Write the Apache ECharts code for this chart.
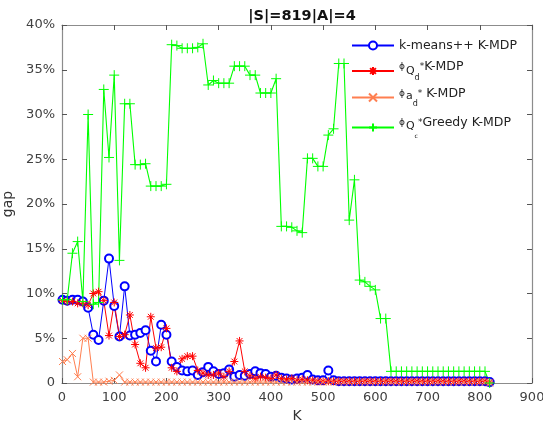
<!DOCTYPE html>
<html>
<head>
<meta charset="utf-8">
<script src="https://cdn.jsdelivr.net/npm/echarts@6/dist/echarts.min.js"></script>
<style>html,body{margin:0;padding:0;background:#fff}#c{width:543px;height:428px}</style>
</head>
<body>
<div id="c"></div>
<script>
// K values
const kValues = [1,10,20,30,40,50,60,70,80,90,100,110,120,130,140,150,160,170,180,190,200,210,220,230,240,250,260,270,280,290,300,310,320,330,340,350,360,370,380,390,400,410,420,430,440,450,460,470,480,490,500,510,520,530,540,550,560,570,580,590,600,610,620,630,640,650,660,670,680,690,700,710,720,730,740,750,760,770,780,790,800,810,819];
// gap values in percent
const kmeansGap = [9.3,9.2,9.3,9.3,9.1,8.4,5.4,4.8,9.2,13.9,8.6,5.2,10.8,5.3,5.4,5.6,5.9,3.6,2.4,6.5,5.4,2.4,1.8,1.4,1.3,1.4,0.9,1.2,1.8,1.3,1.0,1.1,1.5,0.7,0.9,0.8,1.0,1.3,1.1,1.0,0.7,0.8,0.6,0.5,0.4,0.5,0.6,0.9,0.4,0.3,0.3,1.4,0.3,0.2,0.2,0.2,0.2,0.2,0.2,0.2,0.2,0.2,0.2,0.2,0.2,0.2,0.2,0.2,0.2,0.2,0.2,0.2,0.2,0.2,0.2,0.2,0.2,0.2,0.2,0.2,0.2,0.2,0.1];
const phiQdGap = [9.2,9.1,9.1,8.9,8.9,8.7,10.0,10.2,9.2,5.3,9.0,5.2,5.4,7.6,4.3,2.2,1.7,7.4,3.9,4.0,6.1,1.7,1.3,2.7,3.0,3.0,1.4,1.1,0.9,0.9,1.1,0.7,1.3,2.4,4.7,1.3,0.8,0.5,0.7,0.6,0.5,0.9,0.5,0.4,0.5,0.3,0.4,0.3,0.3,0.2,0.2,0.2,0.2,0.2,0.2,0.2,0.2,0.2,0.2,0.2,0.2,0.2,0.2,0.2,0.2,0.2,0.2,0.2,0.2,0.2,0.2,0.2,0.2,0.2,0.2,0.2,0.2,0.2,0.2,0.2,0.2,0.2,0.1];
const phiAdGap = [2.4,2.6,3.3,0.7,5.0,5.0,0.1,0.1,0.1,0.2,0.3,0.9,0.1,0.1,0.1,0.1,0.1,0.1,0.1,0.1,0.1,0.1,0.1,0.1,0.1,0.1,0.1,0.1,0.1,0.1,0.1,0.1,0.1,0.1,0.1,0.1,0.1,0.1,0.1,0.1,0.1,0.1,0.1,0.1,0.1,0.1,0.1,0.1,0.1,0.1,0.1,0.1,0.1,0.1,0.1,0.1,0.1,0.1,0.1,0.1,0.1,0.1,0.1,0.1,0.1,0.1,0.1,0.1,0.1,0.1,0.1,0.1,0.1,0.1,0.1,0.1,0.1,0.1,0.1,0.1,0.1,0.1,0.0];
const greedyGap = [9.3,9.3,14.5,15.8,9.1,30.0,8.8,9.0,32.8,25.2,34.4,13.7,31.2,31.2,24.4,24.4,24.5,22.0,22.0,22.0,22.2,37.8,37.7,37.4,37.4,37.4,37.5,37.9,33.3,33.8,33.5,33.5,33.5,35.4,35.4,35.4,34.4,34.4,32.4,32.4,32.4,34.0,17.5,17.5,17.4,17.0,16.8,25.1,25.1,24.2,24.2,27.7,28.4,35.7,35.7,18.2,22.7,11.5,11.3,10.8,10.4,7.2,7.2,1.3,1.3,1.3,1.3,1.3,1.3,1.3,1.3,1.3,1.3,1.3,1.3,1.3,1.3,1.3,1.3,1.3,1.3,1.3,0.0];
const seriesNames = ['k-means++ K-MDP','phiQd','phiad','phiQc'];
const xTicks = [0,100,200,300,400,500,600,700,800,900];
const yTicks = [0,5,10,15,20,25,30,35,40];

const FONT = 'DejaVu Sans';
const COLORS = ['#0000ff','#ff0000','#ff7f50','#00ff00'];
const pair = arr => kValues.map((k,i)=>[k,arr[i]]);
const AST = 'path://M0,-5L0,5M-5,0L5,0M-3.6,-3.6L3.6,3.6M-3.6,3.6L3.6,-3.6';
const CROSS = 'path://M-4,-4L4,4M-4,4L4,-4';
const PLUS = 'path://M0,-5L0,5M-5,0L5,0';

const TC = '#222';
const rich = {
  n:{fontFamily:FONT,fontSize:12.5,color:TC,verticalAlign:'top',padding:[0,0,0,0]},
  phi:{fontFamily:FONT,fontSize:9,color:TC,verticalAlign:'top',padding:[2,1,0,0]},
  q:{fontFamily:FONT,fontSize:11,color:TC,verticalAlign:'top',padding:[6,0,0,0]},
  q2:{fontFamily:FONT,fontSize:11,color:TC,verticalAlign:'top',padding:[5,0,0,0]},
  a:{fontFamily:FONT,fontSize:11,color:TC,verticalAlign:'top',padding:[4,0,0,0]},
  d:{fontFamily:FONT,fontSize:8,color:TC,verticalAlign:'top',padding:[14,0,0,0]},
  d2:{fontFamily:FONT,fontSize:8,color:TC,verticalAlign:'top',padding:[13,0,0,0]},
  c:{fontFamily:FONT,fontSize:6,color:TC,verticalAlign:'top',padding:[17,0,0,0]},
  st:{fontFamily:FONT,fontSize:9,color:TC,verticalAlign:'top',padding:[2,0,0,0]}
};
const labelFmt = {
  'k-means++ K-MDP':'{n|k-means++ K-MDP}',
  'phiQd':'{phi|ϕ}{q|Q}{d|d}{st|*}{n|K-MDP}',
  'phiad':'{phi|ϕ}{a|a}{d2|d}{st|*}{n| K-MDP}',
  'phiQc':'{phi|ϕ}{q2|Q}{c|c}{st|*}{n|Greedy K-MDP}'
};
// top of each legend item block
const legendTops = [39, 60, 87, 116];
const IH = 10;
const legends = seriesNames.map((nm,i)=>({
  data:[nm], left:351, top:legendTops[i], padding:0, itemWidth:42, itemHeight:IH, itemGap:5,
  selectedMode:false, formatter: n=>labelFmt[n],
  textStyle:{rich:rich, fontFamily:FONT, fontSize:12.5, color:TC}
}));

const axisCommon = {
  min:0, splitLine:{show:false},
  axisLine:{show:true,onZero:false,lineStyle:{color:'#8c8c8c',width:1.2}},
  axisTick:{show:true,inside:true,length:5,lineStyle:{color:'#555',width:1}}
};

const chart = echarts.init(document.getElementById('c'), null, {renderer:'canvas'});
chart.setOption({
  backgroundColor:'#fff',
  animation:false,
  color:COLORS,
  title:{text:'|S|=819|A|=4', left:297, textAlign:'center', top:4,
    textStyle:{fontFamily:FONT,fontSize:14.5,fontWeight:'bold',color:'#111'}},
  legend:legends,
  grid:{left:62, top:25, width:470, height:358, containLabel:false, outerBoundsMode:'none'},
  xAxis:[
    Object.assign({}, axisCommon, {type:'value', position:'bottom', max:900, interval:100,
      name:'K', nameLocation:'middle', nameGap:23,
      nameTextStyle:{fontFamily:FONT,fontSize:14,color:'#333'},
      axisLabel:{fontFamily:FONT,fontSize:13,color:'#404040',margin:8,
        formatter:v=>xTicks.includes(v)?String(v):''}}),
    Object.assign({}, axisCommon, {type:'value', position:'top', max:900, interval:100,
      axisLabel:{show:false}})
  ],
  yAxis:[
    Object.assign({}, axisCommon, {type:'value', position:'left', max:40, interval:5,
      name:'gap', nameLocation:'middle', nameGap:40, nameRotate:90,
      nameTextStyle:{fontFamily:FONT,fontSize:14,color:'#333'},
      axisLabel:{fontFamily:FONT,fontSize:13,color:'#404040',margin:7,
        formatter:v=>yTicks.includes(v)?(v===0?'0':v+'%'):''}}),
    Object.assign({}, axisCommon, {type:'value', position:'right', max:40, interval:5,
      axisLabel:{show:false}})
  ],
  series:[
    {name:seriesNames[0], type:'line', data:pair(kmeansGap), symbol:'emptyCircle', symbolSize:8,
      showAllSymbol:true, lineStyle:{color:COLORS[0],width:1}, itemStyle:{color:COLORS[0],borderColor:COLORS[0],borderWidth:1}},
    {name:seriesNames[1], type:'line', data:pair(phiQdGap), symbol:AST, symbolSize:8,
      showAllSymbol:true, lineStyle:{color:COLORS[1],width:1}, itemStyle:{color:COLORS[1],borderColor:COLORS[1],borderWidth:1}},
    {name:seriesNames[2], type:'line', data:pair(phiAdGap), symbol:CROSS, symbolSize:7,
      showAllSymbol:true, lineStyle:{color:COLORS[2],width:1}, itemStyle:{color:COLORS[2],borderColor:COLORS[2],borderWidth:1}},
    {name:seriesNames[3], type:'line', data:pair(greedyGap), symbol:PLUS, symbolSize:10,
      showAllSymbol:true, lineStyle:{color:COLORS[3],width:1.1}, itemStyle:{color:COLORS[3],borderColor:COLORS[3],borderWidth:1}}
  ]
});
</script>
</body>
</html>
